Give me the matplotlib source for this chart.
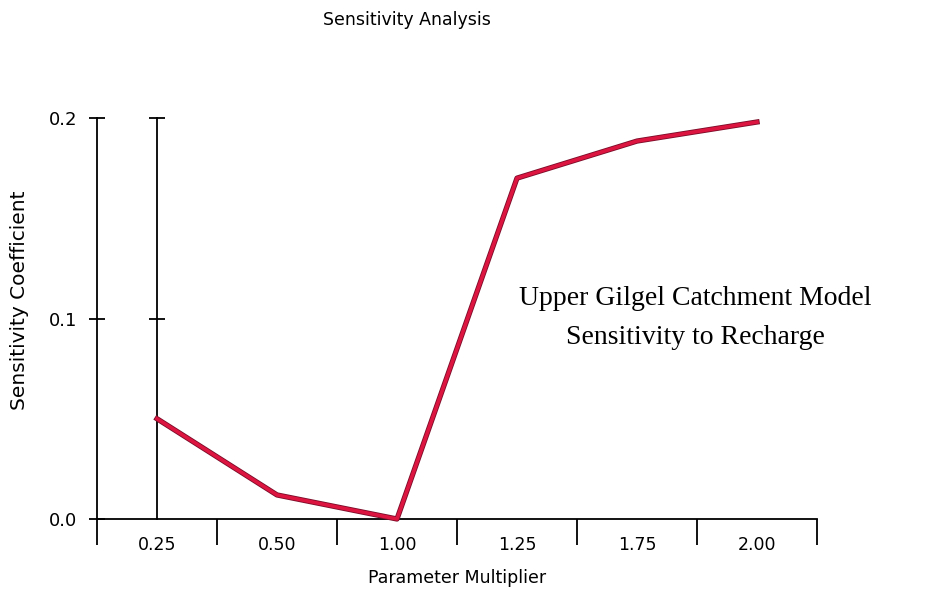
import matplotlib
matplotlib.use("Agg")
import matplotlib.pyplot as plt
import matplotlib.patheffects as pe
import numpy as np

categories = ["0.25", "0.50", "1.00", "1.25", "1.75", "2.00"]
sensitivity = [0.050, 0.012, 0.0, 0.170, 0.1885, 0.198]
y_ticks = [0.0, 0.1, 0.2]
y_tick_labels = ["0.0", "0.1", "0.2"]

W, H = 927, 595
fig = plt.figure(figsize=(W / 100, H / 100), dpi=100)
fig.patch.set_facecolor("white")

left, right, top, bottom = 97, 817, 118, 519
ax = fig.add_axes([left / W, (H - bottom) / H, (right - left) / W, (bottom - top) / H])

x = np.arange(len(categories))
ax.plot(x, sensitivity, color="#dc1440", lw=2.6, solid_joinstyle="round",
        path_effects=[pe.Stroke(linewidth=3.8, foreground="#7a0c28"), pe.Normal()],
        clip_on=False, zorder=5)

ax.set_xlim(-0.5, len(categories) - 0.5)
ax.set_ylim(0, 0.2)

for s in ["top", "right"]:
    ax.spines[s].set_visible(False)
for s in ["left", "bottom"]:
    ax.spines[s].set_linewidth(1.3)
    ax.spines[s].set_color("black")

# x: boundary ticks (major, unlabeled) + centred labels (minor)
ax.set_xticks(np.arange(-0.5, len(categories)))
ax.set_xticklabels([])
ax.set_xticks(x, minor=True)
ax.set_xticklabels(categories, minor=True)
ax.tick_params(axis="x", which="major", direction="out", length=19, width=1.3, color="black")
ax.tick_params(axis="x", which="minor", length=0, pad=12, labelsize=12.5)

ax.set_yticks(y_ticks)
ax.set_yticklabels(y_tick_labels)
ax.tick_params(axis="y", direction="inout", length=12, width=1.3, pad=8, labelsize=13)

# second vertical axis line at first category centre
sec = ax.secondary_yaxis(location=0.5 / len(categories))
sec.spines["left"].set_linewidth(1.3)
sec.set_yticks(y_ticks[1:])
sec.set_yticklabels([])
sec.tick_params(direction="inout", length=12, width=1.3)

fig.text(407 / W, 1 - 20 / H, "Sensitivity Analysis", ha="center", va="center", fontsize=12.5)
fig.text(457 / W, 1 - 578 / H, "Parameter Multiplier", ha="center", va="center", fontsize=12.5)
fig.text(20 / W, 1 - 300 / H, "Sensitivity Coefficient", ha="center", va="center",
         rotation=90, fontsize=14.5)
fig.text(695 / W, 1 - 318 / H, "Upper Gilgel Catchment Model\nSensitivity to Recharge",
         ha="center", va="center", fontsize=20, family="Liberation Serif", linespacing=1.75)

fig.savefig("out.png", dpi=100, facecolor="white")
